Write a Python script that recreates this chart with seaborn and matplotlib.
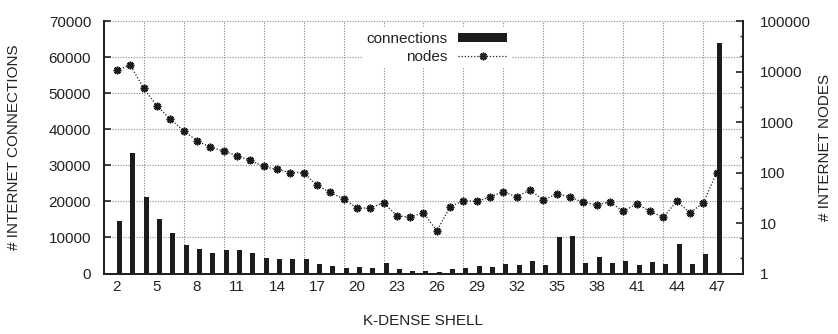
import matplotlib
matplotlib.use("Agg")
import matplotlib.pyplot as plt
import numpy as np
import pandas as pd
import seaborn as sns
from matplotlib.ticker import FixedLocator, LogLocator, NullFormatter, FuncFormatter
from matplotlib.patches import Rectangle
from matplotlib.lines import Line2D

# ---- data ----
shell = list(range(2, 48))
connections = [14500, 33500, 21300, 15100, 11250, 7900, 6800, 5700, 6550, 6550,
               5700, 4350, 4050, 4050, 4050, 2650, 2050, 1550, 1800, 1550,
               2900, 1250, 700, 700, 420, 1250, 1500, 2060, 1780, 2620,
               2340, 3460, 2240, 10190, 10470, 2900, 4580, 2900, 3460, 2340,
               3180, 2620, 8220, 2620, 5420, 64000]
nodes = [10700, 13400, 4650, 2070, 1150, 670, 425, 316, 266, 215,
         174, 132, 115, 100, 100, 56, 40.5, 30, 19.8, 19.8,
         25.2, 14, 13, 16, 7, 21, 27.6, 26.9, 32.7, 41.7,
         32.7, 45.7, 28.2, 38, 32.7, 25.5, 23, 26, 17, 24,
         17, 13, 27, 16, 25, 100]
xtick_labels = list(range(2, 48, 3))
grid_x = list(range(4, 47, 3))
left_ticks = list(range(0, 70001, 10000))

df = pd.DataFrame({"shell": shell, "connections": connections, "nodes": nodes})

sns.set_theme(style="white")
plt.rcParams["font.family"] = ["Liberation Sans", "DejaVu Sans"]

TXT = "#222222"
DARK = "#1c1c1c"

fig = plt.figure(figsize=(8.38, 3.34), dpi=100)
ax = fig.add_axes([0.1237, 0.1811, 0.7633, 0.7559])

sns.barplot(data=df, x="shell", y="connections", native_scale=True, width=0.375,
            color=DARK, saturation=1, linewidth=0, errorbar=None, ax=ax)
# gnuplot-style: bar starts at the x value
for b in ax.patches:
    b.set_x(b.get_x() + b.get_width() / 2)

ax.set_xlim(1, 49)
ax.set_ylim(0, 70000)
ax.xaxis.set_major_locator(FixedLocator(xtick_labels))
ax.xaxis.set_minor_locator(FixedLocator(grid_x))
ax.set_xticklabels([str(v) for v in xtick_labels])
ax.set_yticks(left_ticks)
ax.set_yticklabels([str(v) for v in left_ticks])

grid_kw = dict(color="#8a8a8a", linestyle=(0, (1, 1.4)), linewidth=0.8)
ax.grid(False)
ax.grid(True, which="major", axis="y", **grid_kw)
ax.grid(True, which="minor", axis="x", **grid_kw)
ax.set_axisbelow(True)

ax.tick_params(axis="x", which="major", length=0, pad=5, labelsize=11, labelcolor=TXT)
ax.tick_params(axis="x", which="minor", length=0)
ax.tick_params(axis="y", which="major", direction="in", length=5, width=1.2, color=TXT,
               pad=9, labelsize=11, labelcolor=TXT, left=True, right=False)

ax.set_xlabel("K-DENSE SHELL", fontsize=11, color=TXT, labelpad=14)
ax.set_ylabel("# INTERNET CONNECTIONS", fontsize=11, color=TXT, labelpad=20)

# right axis: nodes (log)
ax2 = ax.twinx()
sns.lineplot(data=df, x="shell", y="nodes", ax=ax2, color="#222222",
             linestyle=(0, (1, 1.5)), linewidth=0.9,
             marker=(8, 2, 0), markersize=5.5, markeredgewidth=1.2,
             markeredgecolor="#1a1a1a", errorbar=None)
ax2.set_yscale("log")
ax2.set_ylim(1, 1e5)
ax2.set_xlim(1, 49)
ax2.yaxis.set_major_locator(LogLocator(base=10, numticks=10))
ax2.yaxis.set_minor_locator(LogLocator(base=10, subs=(2, 5), numticks=20))
ax2.yaxis.set_minor_formatter(NullFormatter())
ax2.yaxis.set_major_formatter(FuncFormatter(lambda v, p: f"{int(round(v))}"))
ax2.tick_params(axis="y", which="major", direction="in", length=5, width=1.2, color=TXT,
                pad=12, labelsize=11, labelcolor=TXT)
ax2.tick_params(axis="y", which="minor", direction="in", length=2.5, width=1.0, color=TXT)
ax2.set_ylabel("# INTERNET NODES", fontsize=11, color=TXT, labelpad=5)
ax2.grid(False)

for a in (ax, ax2):
    a.spines["top"].set_visible(False)
    for s in ("left", "right", "bottom"):
        a.spines[s].set_linewidth(1.4)
        a.spines[s].set_color(TXT)

handles = [Rectangle((0, 0), 1, 1, facecolor=DARK, edgecolor="none"),
           Line2D([], [], color="#222222", linestyle=(0, (1, 1.5)), linewidth=0.9,
                  marker=(8, 2, 0), markersize=5.5, markeredgewidth=1.2)]
leg = ax2.legend(handles, ["connections", "nodes"], loc="upper right",
                 bbox_to_anchor=(0.638, 0.975), markerfirst=False, frameon=True,
                 fancybox=False, framealpha=1, edgecolor="none", facecolor="white",
                 fontsize=11, handlelength=3.2, handleheight=0.5, handletextpad=0.7,
                 labelspacing=0.25, borderpad=0.3, borderaxespad=0)
for t in leg.get_texts():
    t.set_color(TXT)

fig.savefig("out.png", dpi=100)
